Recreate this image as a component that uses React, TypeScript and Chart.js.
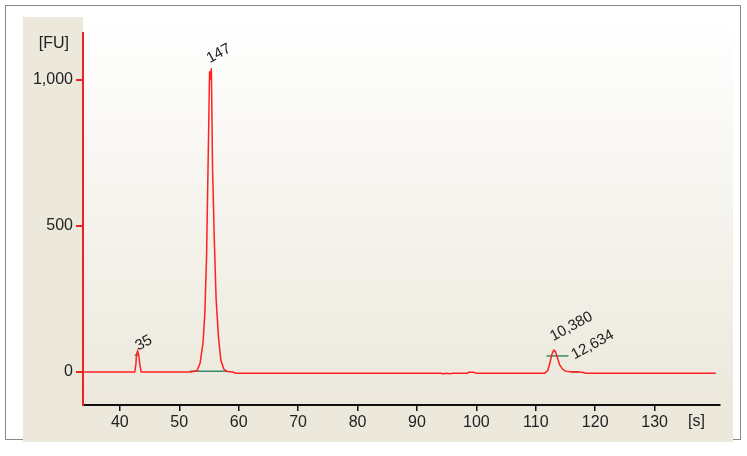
import React, { useEffect, useRef } from "react";
import { Chart, registerables } from "chart.js";
Chart.register(...registerables);

const traceX = [34, 42.5, 42.7, 42.8, 43.0, 43.2, 43.4, 43.6, 52, 53, 53.5, 54, 54.3, 54.6, 54.8, 55.0, 55.1, 55.2, 55.4, 55.6, 55.9, 56.2, 56.6, 57, 57.5, 58, 59, 59.5, 94, 94.3, 95, 95.5, 96, 98.5, 98.7, 99.5, 100, 100.3, 111.5, 112, 112.3, 112.7, 113, 113.3, 113.7, 114, 114.5, 115, 116, 117, 118, 118.5, 140.3];
const traceY = [0, 0, 25, 60, 72, 55, 20, 0, 0, 5, 30, 100, 200, 400, 650, 900, 1030, 1000, 1040, 700, 450, 250, 120, 40, 10, 2, 0, -4, -4, -6, -4, -6, -4, -4, -1, -1, -4, -4, -4, 5, 25, 60, 75, 70, 45, 25, 10, 3, 0, 1, -2, -4, -4];
const yTicks = [0, 500, 1000];
const xTicks = [40, 50, 60, 70, 80, 90, 100, 110, 120, 130];
const peakLabels = ["35", "147", "10,380", "12,634"];
const peakLabelX = [42.8, 54.8, 112.6, 116.2];
const peakLabelY = [85, 1070, 118, 55];
const greenSegX = [[42.5, 43.2], [51.8, 58.2], [111.8, 115.5], [116, 117]];
const greenSegY = [[58, 58], [3, 3], [55, 55], [0, 0]];

const FONT = "'Liberation Sans Narrow', 'Liberation Sans', Arial, sans-serif";

export default function App() {
  const ref = useRef<HTMLCanvasElement>(null);
  useEffect(() => {
    document.body.style.margin = "0";
    const deco = {
      id: "deco",
      beforeDraw(c: any) {
        const ctx = c.ctx;
        const a = c.chartArea;
        ctx.save();
        ctx.fillStyle = "#fff";
        ctx.fillRect(0, 0, 747, 456);
        ctx.strokeStyle = "#888";
        ctx.lineWidth = 1;
        ctx.strokeRect(5.5, 5.5, 735, 434);
        ctx.fillStyle = "#ece8dc";
        ctx.fillRect(23, 17, 710, 425);
        const g = ctx.createLinearGradient(0, a.top - 15, 0, a.bottom);
        g.addColorStop(0, "#ffffff");
        g.addColorStop(1, "#ece8dc");
        ctx.fillStyle = g;
        ctx.fillRect(a.left, 17, 733 - a.left, a.bottom - 17);
        ctx.restore();
      },
      afterDraw(c: any) {
        const ctx = c.ctx;
        const xs = c.scales.x, ys = c.scales.y;
        ctx.save();
        ctx.fillStyle = "#222";
        ctx.font = "16px " + FONT;
        ctx.textBaseline = "middle";
        ctx.textAlign = "right";
        ctx.fillText("[FU]", 69, 44);
        ctx.textAlign = "left";
        ctx.fillText("[s]", 688, 422);
        ctx.font = "15px " + FONT;
        peakLabels.forEach((t, i) => {
          ctx.save();
          ctx.translate(xs.getPixelForValue(peakLabelX[i]), ys.getPixelForValue(peakLabelY[i]));
          ctx.rotate(-0.5);
          ctx.textAlign = "left";
          ctx.fillText(t, 0, 0);
          ctx.restore();
        });
        ctx.restore();
      },
    };
    const green = greenSegX.map((sx, i) => ({
      data: sx.map((x, j) => ({ x, y: greenSegY[i][j] })),
      borderColor: "#3a8a6a",
      borderWidth: 1.5,
      showLine: true,
      pointRadius: 0,
    }));
    const chart = new Chart(ref.current!, {
      type: "scatter",
      data: {
        datasets: [
          {
            data: traceX.map((x, i) => ({ x, y: traceY[i] })),
            borderColor: "#ff2020",
            borderWidth: 1.5,
            showLine: true,
            pointRadius: 0,
            tension: 0,
          },
          ...green,
        ],
      },
      plugins: [deco],
      options: {
        animation: false,
        responsive: false,
        layout: { padding: { left: 0, top: 33, right: 27, bottom: 0 } },
        plugins: { legend: { display: false }, tooltip: { enabled: false } },
        scales: {
          x: {
            type: "linear",
            min: 33.8,
            max: 141,
            afterFit: (s: any) => { s.height = 51; },
            afterBuildTicks: (s: any) => { s.ticks = xTicks.map((v) => ({ value: v })); },
            border: { color: "#111", width: 2 },
            grid: { drawOnChartArea: false, color: "#111", tickLength: 6, lineWidth: 1.5 },
            ticks: { color: "#222", font: { size: 16, family: FONT }, padding: 2 },
          },
          y: {
            min: -113,
            max: 1161,
            afterFit: (s: any) => { s.width = 83; },
            afterBuildTicks: (s: any) => { s.ticks = yTicks.map((v) => ({ value: v })); },
            border: { color: "#ee2222", width: 2 },
            grid: { drawOnChartArea: false, color: "#ee2222", tickLength: 7, lineWidth: 2 },
            ticks: {
              color: "#222",
              font: { size: 16, family: FONT },
              padding: 3,
              callback: (v: any) => Number(v).toLocaleString("en-US"),
            },
          },
        },
      },
    });
    return () => chart.destroy();
  }, []);
  return <canvas ref={ref} width={747} height={456} style={{ display: "block" }} />;
}
